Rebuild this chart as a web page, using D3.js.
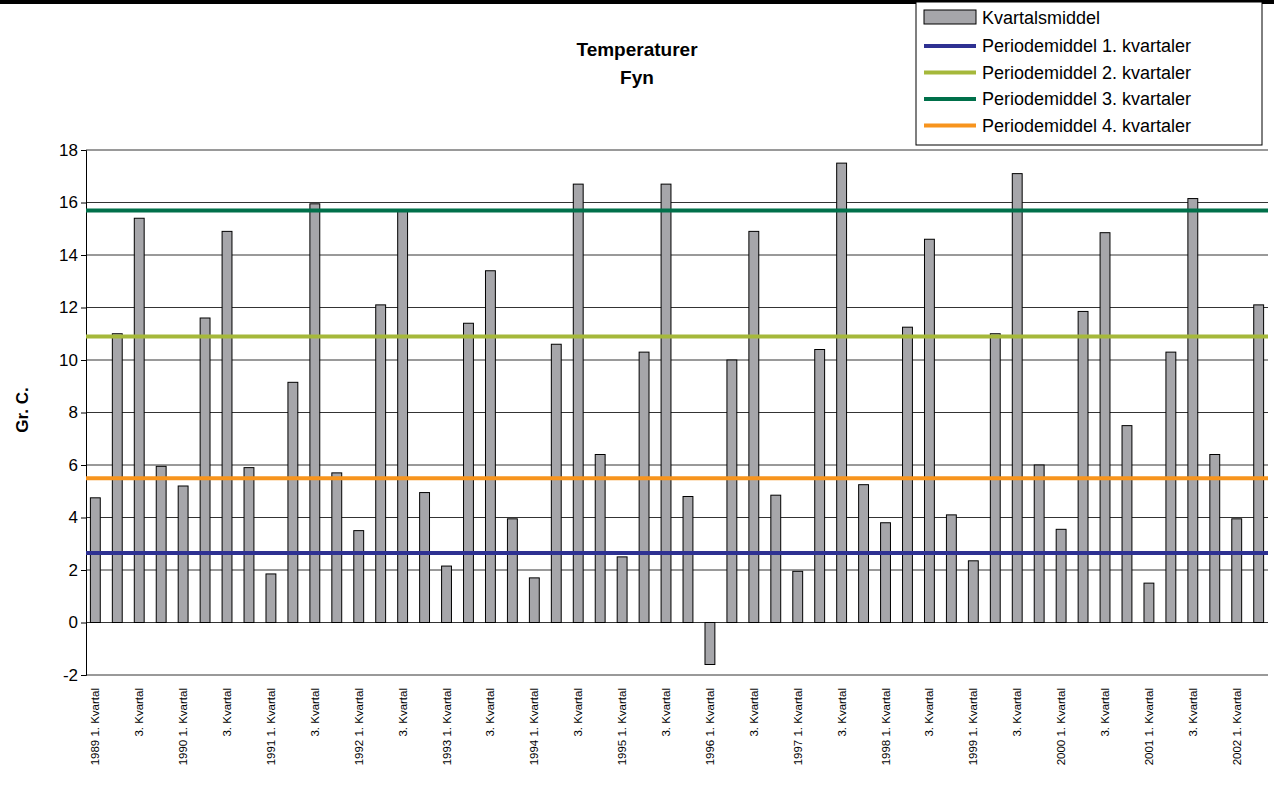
<!DOCTYPE html>
<html><head><meta charset="utf-8">
<script src="https://cdn.jsdelivr.net/npm/d3@7"></script>
<style>body{margin:0;background:#fff;font-family:"Liberation Sans",Arial,sans-serif}</style>
</head><body><svg id="c" width="1274" height="785"></svg>
<script>
var years = d3.range(1989, 2003);
var values = [4.75, 11.0, 15.4, 5.95, 5.2, 11.6, 14.9, 5.9, 1.85, 9.15, 15.95, 5.7,
  3.5, 12.1, 15.7, 4.95, 2.15, 11.4, 13.4, 3.95, 1.7, 10.6, 16.7, 6.4,
  2.5, 10.3, 16.7, 4.8, -1.6, 10.0, 14.9, 4.85, 1.95, 10.4, 17.5, 5.25,
  3.8, 11.25, 14.6, 4.1, 2.35, 11.0, 17.1, 6.0, 3.55, 11.85, 14.85, 7.5,
  1.5, 10.3, 16.15, 6.4, 3.95, 12.1];
var means = [2.65, 10.9, 15.7, 5.5];
var meanNames = ["Periodemiddel 1. kvartaler", "Periodemiddel 2. kvartaler", "Periodemiddel 3. kvartaler", "Periodemiddel 4. kvartaler"];
var meanColors = ["#2e3192", "#a5b83a", "#00704a", "#f7941d"];
var yTicks = d3.range(-2, 19, 2);

var svg = d3.select("#c");
var pl = 86, pr = 1268, pt = 150, pb = 675;

svg.append("rect").attr("x", 0).attr("y", 0).attr("width", 1274).attr("height", 4).attr("fill", "#000");

var x = d3.scaleBand().domain(d3.range(values.length)).range([pl, pr]).paddingInner(0.55).paddingOuter(0.2);
var y = d3.scaleLinear().domain([-2, 18]).range([pb, pt]);

// gridlines
svg.selectAll(".g").data(yTicks).enter().append("line")
  .attr("x1", pl).attr("x2", pr).attr("y1", d => y(d)).attr("y2", d => y(d))
  .attr("stroke", "#000").attr("stroke-width", 0.8);

// y axis
var ya = svg.append("g").attr("transform", "translate(" + pl + ",0)")
  .call(d3.axisLeft(y).tickValues(yTicks).tickSize(5).tickFormat(d => String(d)));
ya.select(".domain").attr("stroke", "#000");
ya.selectAll("text").style("font-size", "17px").attr("font-family", "Liberation Sans, Arial");

// bars
svg.selectAll(".bar").data(values).enter().append("rect")
  .attr("x", (d, i) => x(i)).attr("width", x.bandwidth())
  .attr("y", d => y(Math.max(0, d))).attr("height", d => Math.abs(y(d) - y(0)))
  .attr("fill", "#a6a6aa").attr("stroke", "#000").attr("stroke-width", 1);

// mean lines
svg.selectAll(".m").data(means).enter().append("line")
  .attr("x1", pl).attr("x2", pr).attr("y1", d => y(d)).attr("y2", d => y(d))
  .attr("stroke", (d, i) => meanColors[i]).attr("stroke-width", 4);

// x labels
values.forEach((v, i) => {
  if (i % 2) return;
  var q = i % 4, yr = years[Math.floor(i / 4)];
  var lab = q === 0 ? yr + " 1. Kvartal" : "3. Kvartal";
  svg.append("text").attr("transform", "translate(" + (x(i) + x.bandwidth() / 2 + 4) + ",688) rotate(-90)")
    .attr("text-anchor", "end").style("font-size", "11.5px").text(lab);
});

// y label
svg.append("text").attr("transform", "translate(28,410) rotate(-90)").attr("text-anchor", "middle")
  .style("font-size", "17px").style("font-weight", "bold").text("Gr. C.");

// title
svg.append("text").attr("x", 637).attr("y", 56).attr("text-anchor", "middle").style("font-size", "19px").style("font-weight", "bold").text("Temperaturer");
svg.append("text").attr("x", 637).attr("y", 84).attr("text-anchor", "middle").style("font-size", "19px").style("font-weight", "bold").text("Fyn");

// legend
var lg = svg.append("g");
lg.append("rect").attr("x", 916).attr("y", 2).attr("width", 346).attr("height", 143).attr("fill", "#fff").attr("stroke", "#000");
lg.append("rect").attr("x", 924).attr("y", 10).attr("width", 52).attr("height", 14).attr("fill", "#a6a6aa").attr("stroke", "#000");
lg.append("text").attr("x", 982).attr("y", 24).style("font-size", "18px").text("Kvartalsmiddel");
meanNames.forEach((n, i) => {
  var yy = 52 + i * 26.5;
  lg.append("line").attr("x1", 924).attr("x2", 976).attr("y1", yy - 6).attr("y2", yy - 6).attr("stroke", meanColors[i]).attr("stroke-width", 4);
  lg.append("text").attr("x", 982).attr("y", yy).style("font-size", "18px").text(n);
});
</script></body></html>
